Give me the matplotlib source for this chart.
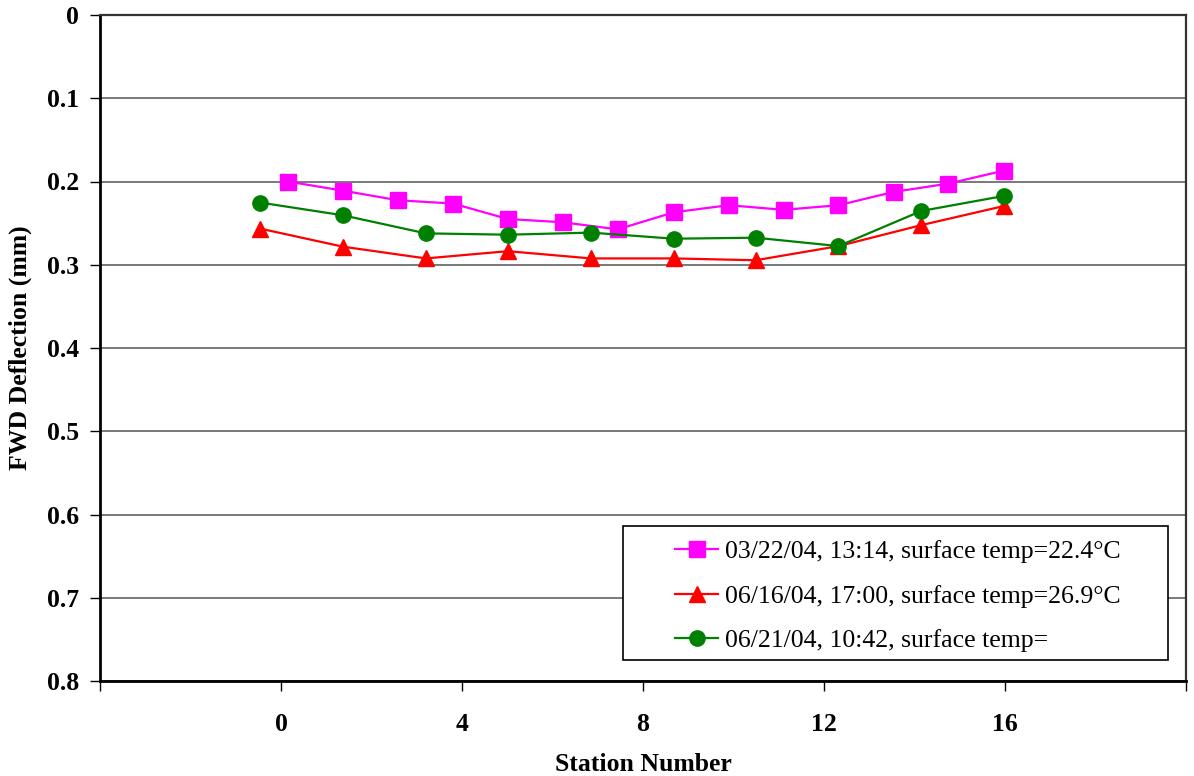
import matplotlib
matplotlib.use('Agg')
import matplotlib.pyplot as plt
from matplotlib.patches import Rectangle

# station positions and FWD deflections (mm)
x_mar = [0.15, 1.37, 2.58, 3.80, 5.01, 6.23, 7.44, 8.68, 9.89, 11.11, 12.32, 13.54, 14.75, 15.97]
d_mar = [0.200, 0.211, 0.2225, 0.2265, 0.245, 0.249, 0.2575, 0.237, 0.2285, 0.234, 0.2285, 0.2125, 0.2025, 0.187]

x_jun = [-0.46, 1.37, 3.20, 5.01, 6.85, 8.68, 10.49, 12.32, 14.15, 15.98]
d_jun16 = [0.2566, 0.2783, 0.2924, 0.2837, 0.2924, 0.2924, 0.2946, 0.2776, 0.2524, 0.2294]
d_jun21 = [0.2253, 0.2406, 0.2623, 0.2639, 0.2614, 0.2687, 0.2675, 0.2776, 0.2354, 0.2173]

labels = ['03/22/04, 13:14, surface temp=22.4°C',
          '06/16/04, 17:00, surface temp=26.9°C',
          '06/21/04, 10:42, surface temp=']

x_ticks = [-4, 0, 4, 8, 12, 16, 20]
x_ticklabels = ['', '0', '4', '8', '12', '16', '']
y_ticks = [0, 0.1, 0.2, 0.3, 0.4, 0.5, 0.6, 0.7, 0.8]
y_ticklabels = ['0', '0.1', '0.2', '0.3', '0.4', '0.5', '0.6', '0.7', '0.8']

plt.rcParams['font.family'] = ['Liberation Serif', 'DejaVu Serif']

fig = plt.figure(figsize=(11.94, 7.76), dpi=100)
ax = fig.add_axes([100 / 1194, 95 / 776, 1086 / 1194, 666 / 776])

ax.plot(x_mar, d_mar, c='#FF00FF', marker='s', ms=11, lw=1.6, label=labels[0], zorder=3)
ax.plot(x_jun, d_jun16, c='#FF0000', marker='^', ms=12, lw=1.6, label=labels[1], zorder=3)
ax.plot(x_jun, d_jun21, c='#008000', marker='o', ms=11, lw=1.6, label=labels[2], zorder=3)

ax.set_xlim(-4, 20)
ax.set_ylim(0.8, 0)
ax.set_xticks(x_ticks)
ax.set_xticklabels(x_ticklabels, fontsize=18.5, fontweight='bold')
ax.set_yticks(y_ticks)
ax.set_yticklabels(y_ticklabels, fontsize=18.5, fontweight='bold')
ax.tick_params(axis='x', direction='out', length=7, width=1, pad=16)
ax.tick_params(axis='y', direction='out', length=7, width=1, pad=8)

ax.yaxis.grid(True, color='#555555', lw=1.1)
ax.set_axisbelow(True)

ax.spines['left'].set_linewidth(2)
ax.spines['bottom'].set_linewidth(2)
for side in ['top', 'right']:
    ax.spines[side].set_linewidth(1.6)
    ax.spines[side].set_color('#333333')

ax.set_xlabel('Station Number', fontsize=18.5, fontweight='bold', labelpad=12)
ax.set_ylabel('FWD Deflection (mm)', fontsize=18.5, fontweight='bold', labelpad=11)

# legend box drawn separately for wider side padding
ax.add_patch(Rectangle((0.4816, 0.0315), 0.5018, 0.2012, transform=ax.transAxes,
                       facecolor='white', edgecolor='black', lw=1.2, zorder=4))
leg = ax.legend(loc='center', bbox_to_anchor=(0.7345, 0.1276), frameon=False,
                fontsize=18.5, handlelength=1.7, handletextpad=0.25, labelspacing=0.82)
leg.set_zorder(5)

plt.savefig('out.png', dpi=100)
plt.close()
